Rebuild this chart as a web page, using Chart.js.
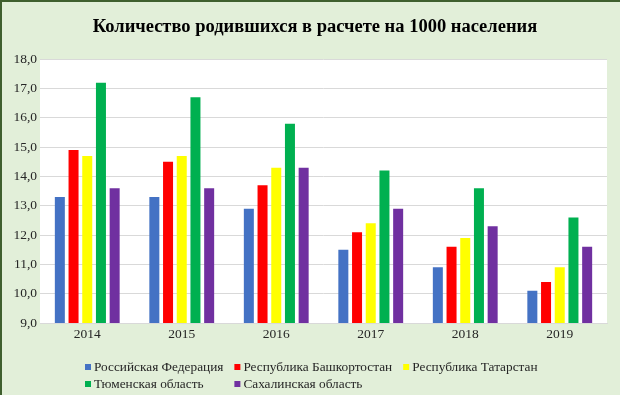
<!DOCTYPE html>
<html><head><meta charset="utf-8">
<script src="https://cdn.jsdelivr.net/npm/chart.js@4/dist/chart.umd.min.js"></script>
<style>html,body{margin:0;padding:0;background:#e2efd9;}#wrap{width:620px;height:395px;position:relative;}</style>
</head><body><div id="wrap"><canvas id="c" width="620" height="395"></canvas></div>
<script>
const categories = ['2014', '2015', '2016', '2017', '2018', '2019'];
const seriesNames = ['Российская Федерация', 'Республика Башкортостан', 'Республика Татарстан', 'Тюменская область', 'Сахалинская область'];
const russia = [13.3, 13.3, 12.9, 11.5, 10.9, 10.1];
const bashkortostan = [14.9, 14.5, 13.7, 12.1, 11.6, 10.4];
const tatarstan = [14.7, 14.7, 14.3, 12.4, 11.9, 10.9];
const tyumen = [17.2, 16.7, 15.8, 14.2, 13.6, 12.6];
const sakhalin = [13.6, 13.6, 14.3, 12.9, 12.3, 11.6];
const yTicks = {min: 9, max: 18, step: 1};
const titleText = 'Количество родившихся в расчете на 1000 населения';

const colors = ['#4472c4', '#ff0000', '#ffff00', '#00b050', '#7030a0'];
const seriesValues = [russia, bashkortostan, tatarstan, tyumen, sakhalin];
const serif = '"Liberation Serif", "Times New Roman", serif';

const bgPlugin = {
  id: 'bg',
  afterLayout(chart) {
    if (chart.titleBlock) { chart.titleBlock.left += 12; chart.titleBlock.right += 11; }
  },
  beforeDraw(chart) {
    const {ctx, chartArea: a, width, height} = chart;
    ctx.save();
    ctx.fillStyle = '#e2efd9';
    ctx.fillRect(0, 0, width, height);
    ctx.fillStyle = '#ffffff';
    ctx.fillRect(a.left, a.top, a.right - a.left, a.bottom - a.top);
    ctx.fillStyle = '#3f5f2e';
    ctx.fillRect(0, 0, width, 2);
    ctx.fillRect(0, 0, 2, height);
    ctx.restore();
  }
};

const legendPlugin = {
  id: 'colLegend',
  afterDraw(chart) {
    const ctx = chart.ctx;
    ctx.save();
    ctx.font = '13.3px ' + serif;
    ctx.textBaseline = 'middle';
    const box = 6, gap = 3, colGap = 11, startX = 85, rowY = [367, 384];
    const ds = chart.data.datasets;
    const widths = ds.map(d => box + gap + ctx.measureText(d.label).width);
    const colW = [0, 0, 0];
    ds.forEach((d, i) => { const c = i % 3; colW[c] = Math.max(colW[c], widths[i]); });
    const colX = [startX];
    for (let c = 1; c < 3; c++) colX[c] = colX[c - 1] + colW[c - 1] + colGap;
    ds.forEach((d, i) => {
      const r = Math.floor(i / 3), c = i % 3;
      const x = colX[c], y = rowY[r];
      ctx.fillStyle = d.backgroundColor;
      ctx.fillRect(x, y - box / 2, box, box);
      ctx.fillStyle = '#262626';
      ctx.fillText(d.label, x + box + gap, y + 1);
    });
    ctx.restore();
  }
};

new Chart(document.getElementById('c'), {
  type: 'bar',
  data: {
    labels: categories,
    datasets: seriesNames.map((name, i) => ({
      label: name,
      data: seriesValues[i],
      backgroundColor: colors[i],
      borderWidth: 0,
      categoryPercentage: 0.725,
      barPercentage: 0.73
    }))
  },
  options: {
    responsive: false,
    animation: false,
    layout: {padding: {left: 0, right: 13, top: 0, bottom: 50}},
    plugins: {
      legend: {display: false},
      tooltip: {enabled: false},
      title: {
        display: true,
        text: titleText,
        color: '#000000',
        font: {family: serif, size: 18.5, weight: 'bold'},
        padding: {top: 16, bottom: 21}
      }
    },
    scales: {
      x: {
        grid: {display: false, drawTicks: false},
        border: {display: true, color: '#d9d9d9'},
        ticks: {color: '#262626', font: {family: serif, size: 13.5}, padding: 3},
        afterFit(s) { s.height = 22; }
      },
      y: {
        min: yTicks.min, max: yTicks.max,
        grid: {color: '#d9d9d9', drawTicks: false},
        border: {display: false},
        ticks: {
          stepSize: yTicks.step,
          color: '#262626',
          font: {family: serif, size: 13.5},
          padding: 3,
          callback: v => v.toFixed(1).replace('.', ',')
        },
        afterFit(s) { s.width = 40; }
      }
    }
  },
  plugins: [bgPlugin, legendPlugin]
});
</script>
</body></html>
